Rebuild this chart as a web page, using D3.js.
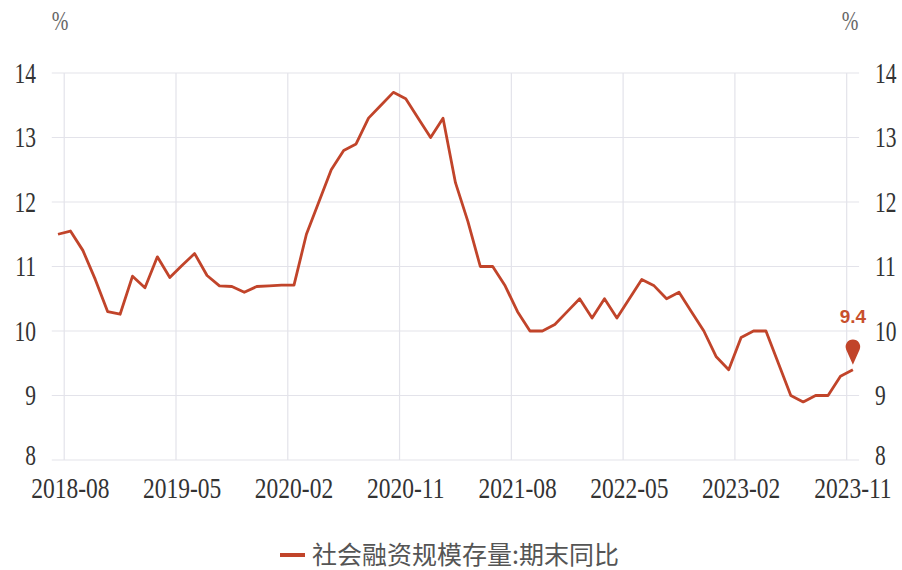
<!DOCTYPE html>
<html>
<head>
<meta charset="utf-8">
<script src="https://cdn.jsdelivr.net/npm/d3@7/dist/d3.min.js"></script>
<style>
  html, body { margin: 0; padding: 0; background: #ffffff; }
  svg { display: block; }
</style>
</head>
<body>
<svg id="chart" width="902" height="570"></svg>
<script>
// ---- data ----
const months = [
  "2018-07","2018-08","2018-09","2018-10","2018-11","2018-12",
  "2019-01","2019-02","2019-03","2019-04","2019-05","2019-06","2019-07","2019-08","2019-09","2019-10","2019-11","2019-12",
  "2020-01","2020-02","2020-03","2020-04","2020-05","2020-06","2020-07","2020-08","2020-09","2020-10","2020-11","2020-12",
  "2021-01","2021-02","2021-03","2021-04","2021-05","2021-06","2021-07","2021-08","2021-09","2021-10","2021-11","2021-12",
  "2022-01","2022-02","2022-03","2022-04","2022-05","2022-06","2022-07","2022-08","2022-09","2022-10","2022-11","2022-12",
  "2023-01","2023-02","2023-03","2023-04","2023-05","2023-06","2023-07","2023-08","2023-09","2023-10","2023-11"
];
const values = [
  11.5, 11.55, 11.25, 10.8, 10.3, 10.26,
  10.85, 10.67, 11.15, 10.83, 11.02, 11.2, 10.86, 10.7, 10.69, 10.6, 10.69, 10.7,
  10.71, 10.71, 11.5, 12.0, 12.5, 12.8, 12.9, 13.3, 13.5, 13.7, 13.6, 13.3,
  13.0, 13.3, 12.3, 11.7, 11.0, 11.0, 10.7, 10.3, 10.0, 10.0, 10.1, 10.3,
  10.5, 10.2, 10.5, 10.2, 10.5, 10.8, 10.7, 10.5, 10.6, 10.3, 10.0, 9.6,
  9.4, 9.9, 10.0, 10.0, 9.5, 9.0, 8.9, 9.0, 9.0, 9.3, 9.4
];
const xTickLabels = ["2018-08","2019-05","2020-02","2020-11","2021-08","2022-05","2023-02","2023-11"];
const yTicks = [8, 9, 10, 11, 12, 13, 14];
const seriesName = "社会融资规模存量:期末同比";
const unitLabel = "%";

// ---- layout ----
const svg = d3.select("#chart");
const lineColor = "#c1442a";
const gridColor = "#e3e3ea";
const textColor = "#333333";

const x = d3.scaleLinear().domain([-0.5, months.length - 0.5]).range([51.8, 859.1]);
const y = d3.scaleLinear().domain([8, 14]).range([460, 73]);

const tickIdx = xTickLabels.map(l => months.indexOf(l));

// horizontal grid
svg.append("g").selectAll("line").data(yTicks).join("line")
  .attr("x1", x(-0.5)).attr("x2", x(months.length - 0.5))
  .attr("y1", d => y(d)).attr("y2", d => y(d))
  .attr("stroke", gridColor).attr("stroke-width", 1.2);

// vertical grid (at category boundaries)
svg.append("g").selectAll("line").data(tickIdx).join("line")
  .attr("x1", d => x(d - 0.5)).attr("x2", d => x(d - 0.5))
  .attr("y1", y(14)).attr("y2", y(8))
  .attr("stroke", gridColor).attr("stroke-width", 1.2);

const serif = "'Liberation Serif', 'DejaVu Serif', serif";
const syY = 1.33;
const syX = 1.27;

// y labels (left and right)
const yl = svg.append("g");
yTicks.forEach(t => {
  const yy = t === 8 ? y(t) - 5 : y(t);
  yl.append("text")
    .attr("transform", `translate(36,${yy}) scale(1,${syY})`)
    .attr("text-anchor", "end").attr("dy", "0.34em")
    .attr("font-family", serif).attr("font-size", 21.5).attr("fill", textColor)
    .text(t);
  yl.append("text")
    .attr("transform", `translate(875,${yy}) scale(1,${syY})`)
    .attr("text-anchor", "start").attr("dy", "0.34em")
    .attr("font-family", serif).attr("font-size", 21.5).attr("fill", textColor)
    .text(t);
});

// x labels
svg.append("g").selectAll("text").data(xTickLabels).join("text")
  .attr("transform", d => `translate(${x(months.indexOf(d))},${488}) scale(1,${syX})`)
  .attr("text-anchor", "middle").attr("dy", "0.34em")
  .attr("font-family", serif).attr("font-size", 23.5).attr("fill", textColor)
  .text(d => d);

// unit labels
[60, 850].forEach(ux => {
  svg.append("text")
    .attr("transform", `translate(${ux},21) scale(1,1.35)`)
    .attr("text-anchor", "middle").attr("dy", "0.34em")
    .attr("font-family", serif).attr("font-size", 20).attr("fill", "#666")
    .text(unitLabel);
});

// line
const line = d3.line().x((d, i) => x(i)).y(d => y(d));
svg.append("path").datum(values)
  .attr("d", line)
  .attr("fill", "none").attr("stroke", lineColor)
  .attr("stroke-width", 2.8).attr("stroke-linejoin", "round");

// pin marker at last point
const li = values.length - 1;
const px = x(li), py = y(values[li]);
const r = 7.3, cyOff = -23, tipOff = -5;
const ang = Math.acos(r / (tipOff - cyOff));
const sx1 = Math.sin(ang) * r, syy = Math.cos(ang) * r;
const pin = svg.append("g").attr("transform", `translate(${px},${py})`);
pin.append("path")
  .attr("d", `M0,${tipOff} L${-sx1},${cyOff + syy} A${r},${r} 0 1 1 ${sx1},${cyOff + syy} Z`)
  .attr("fill", lineColor);
svg.append("text")
  .attr("x", px).attr("y", 323)
  .attr("text-anchor", "middle")
  .attr("font-family", "'Liberation Sans', Arial, sans-serif")
  .attr("font-weight", "bold").attr("font-size", 19)
  .attr("fill", "#c8502d")
  .text(values[li]);

// legend
const lg = svg.append("g");
lg.append("line").attr("x1", 280).attr("x2", 305).attr("y1", 555).attr("y2", 555)
  .attr("stroke", lineColor).attr("stroke-width", 4);
lg.append("text").attr("x", 312).attr("y", 555).attr("dy", "0.36em")
  .attr("font-family", "'Noto Sans CJK SC', sans-serif").attr("font-size", 25)
  .attr("fill", "#555").text(seriesName);
</script>
</body>
</html>
